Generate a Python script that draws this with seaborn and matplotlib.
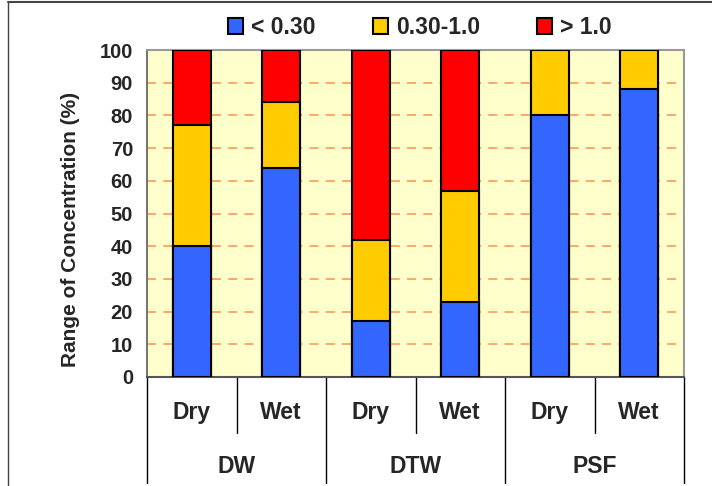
import matplotlib
matplotlib.use("Agg")
import matplotlib.pyplot as plt
import seaborn as sns
import pandas as pd
from matplotlib.patches import Patch
from matplotlib.lines import Line2D
import matplotlib.transforms as mtransforms

# ---- data ----
groups = ["DW", "DTW", "PSF"]
seasons = ["Dry", "Wet"]
categories = ["DW Dry", "DW Wet", "DTW Dry", "DTW Wet", "PSF Dry", "PSF Wet"]
low = [40, 64, 17, 23, 80, 88]      # < 0.30
mid = [37, 20, 25, 34, 20, 12]      # 0.30-1.0
high = [23, 16, 58, 43, 0, 0]       # > 1.0
series_names = ["< 0.30", "0.30-1.0", "> 1.0"]
yticks = list(range(0, 101, 10))

colors = ["#3366FF", "#FFCC00", "#FF0000"]

sns.set_style("white")
plt.rcParams["font.family"] = ["Liberation Sans", "DejaVu Sans"]
plt.rcParams["font.weight"] = "bold"

cum1 = low
cum2 = [a + b for a, b in zip(low, mid)]
cum3 = [a + b + c for a, b, c in zip(low, mid, high)]
df = pd.DataFrame({"cat": categories, "c1": cum1, "c2": cum2, "c3": cum3})

fig = plt.figure(figsize=(7.12, 4.86), dpi=100)
ax = fig.add_axes([147 / 712, 1 - 377 / 486, 537 / 712, 327 / 486])
ax.set_facecolor("#FFFFCC")

for col, c in zip(["c3", "c2", "c1"], [colors[2], colors[1], colors[0]]):
    sns.barplot(data=df, x="cat", y=col, order=categories, color=c, width=0.42,
                edgecolor="black", linewidth=1.5, saturation=1, ax=ax, zorder=3)

ax.set_ylim(0, 100)
ax.set_xlim(-0.5, len(categories) - 0.5)
ax.set_yticks(yticks)
ax.set_yticklabels([str(t) for t in yticks], fontsize=14.5, fontweight="bold")
ax.tick_params(axis="y", direction="out", length=7, width=1.2, color="#666666", pad=3)
ax.set_xticks([])
ax.set_xlabel("")
ax.set_ylabel("Range of Concentration (%)", fontsize=15, fontweight="bold")
ax.yaxis.set_label_coords(-0.125, 0.45)

for t in yticks[1:-1]:
    ax.axhline(t, color="#FFA060", lw=1.3, dashes=(5, 4), zorder=1)

for s in ["top", "right"]:
    ax.spines[s].set_color("#999999")
    ax.spines[s].set_linewidth(1.5)
ax.spines["left"].set_color("#777777")
ax.spines["left"].set_linewidth(1.5)
ax.spines["bottom"].set_color("#555555")
ax.spines["bottom"].set_linewidth(1.5)

trans = mtransforms.blended_transform_factory(ax.transData, ax.transAxes)
for xb in [-0.5, 1.5, 3.5, 5.5]:
    ax.add_line(Line2D([xb, xb], [0, -0.325], transform=trans, color="black",
                       lw=1, clip_on=False))
for xb in [0.5, 2.5, 4.5]:
    ax.add_line(Line2D([xb, xb], [0, -0.17], transform=trans, color="black",
                       lw=1, clip_on=False))
for i, cat in enumerate(categories):
    ax.text(i, -0.11, cat.split(" ")[1], transform=trans, ha="center", va="center",
            fontsize=16.5, fontweight="bold")
for g, name in enumerate(groups):
    ax.text(2 * g + 0.5, -0.275, name, transform=trans, ha="center", va="center",
            fontsize=16.5, fontweight="bold")

handles = [Patch(facecolor=c, edgecolor="black", linewidth=1.5) for c in colors]
fig.legend(handles, series_names, loc="center", bbox_to_anchor=(0.59, 1 - 28 / 486),
           ncol=3, frameon=False, handlelength=0.65, handleheight=0.7,
           handletextpad=0.35, columnspacing=2.5, prop={"weight": "bold", "size": 16.5})

# figure frame lines (top & left)
fig.add_artist(Line2D([8 / 712, 1], [1 - 2 / 486, 1 - 2 / 486], transform=fig.transFigure,
                      color="#444444", lw=1.5))
fig.add_artist(Line2D([8 / 712, 8 / 712], [0, 1 - 2 / 486], transform=fig.transFigure,
                      color="#444444", lw=1.0))

fig.savefig("out.png", dpi=100, facecolor="white")
